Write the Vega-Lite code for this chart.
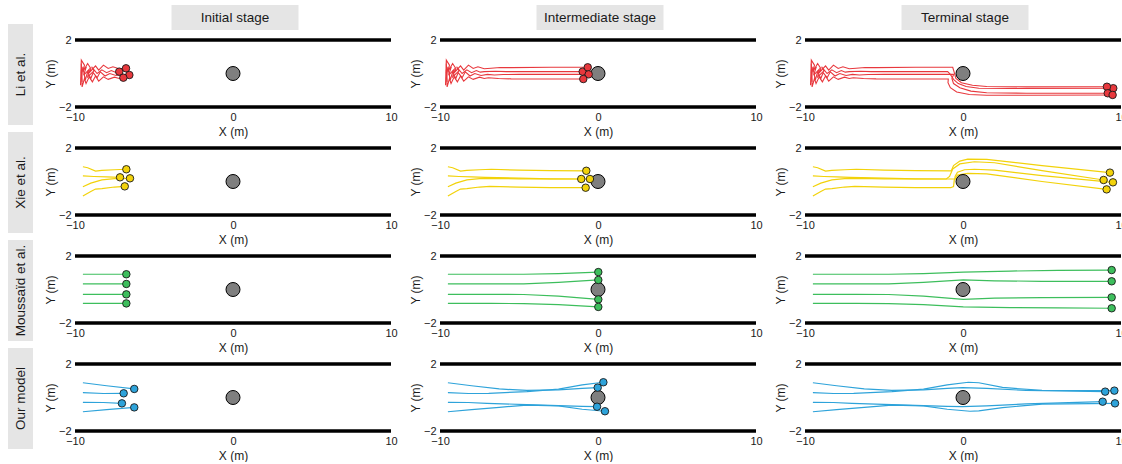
{
"$schema": "https://vega.github.io/schema/vega-lite/v6.json",
"padding": {"left": 8, "top": 5, "right": 0, "bottom": 0},
"background": "white",
"config": {
 "font": "Liberation Sans",
 "view": {"stroke": null},
 "axis": {"ticks": false, "domain": false, "grid": false, "labelFontSize": 11, "titleFontSize": 12, "titleFontWeight": "normal", "labelColor": "#1a1a1a", "titleColor": "#1a1a1a", "labelFlush": false},
 "axisX": {"labelPadding": 4.5, "titlePadding": 4},
 "axisY": {"labelPadding": 4, "titlePadding": 0.5}
},
"datasets": {
 "walls": [{"y": 2}, {"y": -2}],
 "obstacle": [{"x": 0, "y": 0}],
 "agents": [
  {"m":"Li","s":0,"a":1,"x":-7.2,"y":0.11},{"m":"Li","s":0,"a":2,"x":-6.77,"y":0.31},{"m":"Li","s":0,"a":3,"x":-6.56,"y":-0.09},{"m":"Li","s":0,"a":4,"x":-6.94,"y":-0.25},
  {"m":"Li","s":1,"a":1,"x":-0.97,"y":0.11},{"m":"Li","s":1,"a":2,"x":-0.65,"y":0.37},{"m":"Li","s":1,"a":3,"x":-0.59,"y":-0.05},{"m":"Li","s":1,"a":4,"x":-0.93,"y":-0.33},
  {"m":"Li","s":2,"a":1,"x":9.51,"y":-0.88},{"m":"Li","s":2,"a":2,"x":9.11,"y":-0.79},{"m":"Li","s":2,"a":3,"x":9.16,"y":-1.18},{"m":"Li","s":2,"a":4,"x":9.47,"y":-1.28},
  {"m":"Xie","s":0,"a":1,"x":-6.75,"y":0.73},{"m":"Xie","s":0,"a":2,"x":-7.15,"y":0.25},{"m":"Xie","s":0,"a":3,"x":-6.52,"y":0.19},{"m":"Xie","s":0,"a":4,"x":-6.85,"y":-0.29},
  {"m":"Xie","s":1,"a":1,"x":-0.74,"y":0.64},{"m":"Xie","s":1,"a":2,"x":-1.06,"y":0.15},{"m":"Xie","s":1,"a":3,"x":-0.51,"y":0.15},{"m":"Xie","s":1,"a":4,"x":-0.78,"y":-0.37},
  {"m":"Xie","s":2,"a":1,"x":9.3,"y":0.53},{"m":"Xie","s":2,"a":2,"x":8.9,"y":0.09},{"m":"Xie","s":2,"a":3,"x":9.49,"y":-0.05},{"m":"Xie","s":2,"a":4,"x":9.09,"y":-0.47},
  {"m":"Mou","s":0,"a":1,"x":-6.75,"y":0.91},{"m":"Mou","s":0,"a":2,"x":-6.75,"y":0.33},{"m":"Mou","s":0,"a":3,"x":-6.75,"y":-0.29},{"m":"Mou","s":0,"a":4,"x":-6.75,"y":-0.83},
  {"m":"Mou","s":1,"a":1,"x":0.02,"y":1.04},{"m":"Mou","s":1,"a":2,"x":0.02,"y":0.57},{"m":"Mou","s":1,"a":3,"x":0.02,"y":-0.59},{"m":"Mou","s":1,"a":4,"x":0.02,"y":-1.04},
  {"m":"Mou","s":2,"a":1,"x":9.41,"y":1.16},{"m":"Mou","s":2,"a":2,"x":9.41,"y":0.49},{"m":"Mou","s":2,"a":3,"x":9.41,"y":-0.47},{"m":"Mou","s":2,"a":4,"x":9.41,"y":-1.12},
  {"m":"Our","s":0,"a":1,"x":-6.25,"y":0.51},{"m":"Our","s":0,"a":2,"x":-6.92,"y":0.25},{"m":"Our","s":0,"a":3,"x":-7.03,"y":-0.35},{"m":"Our","s":0,"a":4,"x":-6.25,"y":-0.59},
  {"m":"Our","s":1,"a":1,"x":-0.02,"y":0.59},{"m":"Our","s":1,"a":2,"x":0.34,"y":0.91},{"m":"Our","s":1,"a":3,"x":-0.06,"y":-0.55},{"m":"Our","s":1,"a":4,"x":0.44,"y":-0.82},
  {"m":"Our","s":2,"a":1,"x":9.0,"y":0.35},{"m":"Our","s":2,"a":2,"x":9.58,"y":0.41},{"m":"Our","s":2,"a":3,"x":8.84,"y":-0.25},{"m":"Our","s":2,"a":4,"x":9.62,"y":-0.35}
 ],
 "traj": [
  {"m":"Li","a":1,"i":0,"t":0,"x":-9.6,"y":0.6},{"m":"Li","a":1,"i":1,"t":0,"x":-9.55,"y":-0.5},{"m":"Li","a":1,"i":2,"t":0,"x":-9.6,"y":0.2},{"m":"Li","a":1,"i":3,"t":0,"x":-9.3,"y":0.35},{"m":"Li","a":1,"i":4,"t":0,"x":-9.45,"y":-0.1},{"m":"Li","a":1,"i":5,"t":0,"x":-9.1,"y":0.25},{"m":"Li","a":1,"i":6,"t":0,"x":-9.2,"y":-0.2},{"m":"Li","a":1,"i":7,"t":0,"x":-8.8,"y":0.15},{"m":"Li","a":1,"i":8,"t":0,"x":-8.95,"y":0.4},{"m":"Li","a":1,"i":9,"t":0,"x":-8.6,"y":0.0},{"m":"Li","a":1,"i":10,"t":0,"x":-8.3,"y":0.22},{"m":"Li","a":1,"i":11,"t":0,"x":-8.0,"y":0.05},{"m":"Li","a":1,"i":12,"t":0,"x":-7.7,"y":0.18},{"m":"Li","a":1,"i":13,"t":0,"x":-7.45,"y":0.08},{"m":"Li","a":1,"i":14,"t":0,"x":-7.2,"y":0.11},
  {"m":"Li","a":1,"i":15,"t":1,"x":-6.5,"y":0.13},{"m":"Li","a":1,"i":16,"t":1,"x":-5.8,"y":0.11},{"m":"Li","a":1,"i":17,"t":1,"x":-4,"y":0.11},{"m":"Li","a":1,"i":18,"t":1,"x":-0.97,"y":0.11},
  {"m":"Li","a":1,"i":19,"t":2,"x":-0.8,"y":-0.05},{"m":"Li","a":1,"i":20,"t":2,"x":-0.6,"y":-0.35},{"m":"Li","a":1,"i":21,"t":2,"x":-0.3,"y":-0.6},{"m":"Li","a":1,"i":22,"t":2,"x":0.2,"y":-0.78},{"m":"Li","a":1,"i":23,"t":2,"x":1,"y":-0.88},{"m":"Li","a":1,"i":24,"t":2,"x":3,"y":-0.9},{"m":"Li","a":1,"i":25,"t":2,"x":9.51,"y":-0.88},

  {"m":"Li","a":2,"i":0,"t":0,"x":-9.65,"y":-0.7},{"m":"Li","a":2,"i":1,"t":0,"x":-9.6,"y":0.8},{"m":"Li","a":2,"i":2,"t":0,"x":-9.4,"y":0.5},{"m":"Li","a":2,"i":3,"t":0,"x":-9.5,"y":0.1},{"m":"Li","a":2,"i":4,"t":0,"x":-9.2,"y":0.6},{"m":"Li","a":2,"i":5,"t":0,"x":-9.0,"y":0.3},{"m":"Li","a":2,"i":6,"t":0,"x":-9.15,"y":0.0},{"m":"Li","a":2,"i":7,"t":0,"x":-8.7,"y":0.45},{"m":"Li","a":2,"i":8,"t":0,"x":-8.5,"y":0.2},{"m":"Li","a":2,"i":9,"t":0,"x":-8.2,"y":0.5},{"m":"Li","a":2,"i":10,"t":0,"x":-7.9,"y":0.3},{"m":"Li","a":2,"i":11,"t":0,"x":-7.6,"y":0.4},{"m":"Li","a":2,"i":12,"t":0,"x":-7.2,"y":0.28},{"m":"Li","a":2,"i":13,"t":0,"x":-6.77,"y":0.31},
  {"m":"Li","a":2,"i":14,"t":1,"x":-6.2,"y":0.36},{"m":"Li","a":2,"i":15,"t":1,"x":-5.5,"y":0.35},{"m":"Li","a":2,"i":16,"t":1,"x":-3,"y":0.37},{"m":"Li","a":2,"i":17,"t":1,"x":-0.65,"y":0.37},
  {"m":"Li","a":2,"i":18,"t":2,"x":-0.55,"y":0.05},{"m":"Li","a":2,"i":19,"t":2,"x":-0.45,"y":-0.3},{"m":"Li","a":2,"i":20,"t":2,"x":-0.1,"y":-0.55},{"m":"Li","a":2,"i":21,"t":2,"x":0.6,"y":-0.7},{"m":"Li","a":2,"i":22,"t":2,"x":1.5,"y":-0.78},{"m":"Li","a":2,"i":23,"t":2,"x":4,"y":-0.8},{"m":"Li","a":2,"i":24,"t":2,"x":9.11,"y":-0.79},

  {"m":"Li","a":3,"i":0,"t":0,"x":-9.6,"y":-0.3},{"m":"Li","a":3,"i":1,"t":0,"x":-9.5,"y":0.4},{"m":"Li","a":3,"i":2,"t":0,"x":-9.35,"y":-0.4},{"m":"Li","a":3,"i":3,"t":0,"x":-9.2,"y":0.1},{"m":"Li","a":3,"i":4,"t":0,"x":-9.0,"y":-0.3},{"m":"Li","a":3,"i":5,"t":0,"x":-8.85,"y":0.05},{"m":"Li","a":3,"i":6,"t":0,"x":-8.6,"y":-0.25},{"m":"Li","a":3,"i":7,"t":0,"x":-8.4,"y":0.1},{"m":"Li","a":3,"i":8,"t":0,"x":-8.1,"y":-0.15},{"m":"Li","a":3,"i":9,"t":0,"x":-7.8,"y":0.0},{"m":"Li","a":3,"i":10,"t":0,"x":-7.4,"y":-0.12},{"m":"Li","a":3,"i":11,"t":0,"x":-7.0,"y":-0.05},{"m":"Li","a":3,"i":12,"t":0,"x":-6.56,"y":-0.09},
  {"m":"Li","a":3,"i":13,"t":1,"x":-6,"y":-0.06},{"m":"Li","a":3,"i":14,"t":1,"x":-5,"y":-0.05},{"m":"Li","a":3,"i":15,"t":1,"x":-2,"y":-0.05},{"m":"Li","a":3,"i":16,"t":1,"x":-0.59,"y":-0.05},
  {"m":"Li","a":3,"i":17,"t":2,"x":-0.7,"y":-0.3},{"m":"Li","a":3,"i":18,"t":2,"x":-0.6,"y":-0.6},{"m":"Li","a":3,"i":19,"t":2,"x":-0.2,"y":-0.85},{"m":"Li","a":3,"i":20,"t":2,"x":0.5,"y":-1.05},{"m":"Li","a":3,"i":21,"t":2,"x":1.5,"y":-1.15},{"m":"Li","a":3,"i":22,"t":2,"x":4,"y":-1.18},{"m":"Li","a":3,"i":23,"t":2,"x":9.16,"y":-1.18},

  {"m":"Li","a":4,"i":0,"t":0,"x":-9.6,"y":0.1},{"m":"Li","a":4,"i":1,"t":0,"x":-9.55,"y":-0.8},{"m":"Li","a":4,"i":2,"t":0,"x":-9.4,"y":-0.3},{"m":"Li","a":4,"i":3,"t":0,"x":-9.3,"y":-0.6},{"m":"Li","a":4,"i":4,"t":0,"x":-9.1,"y":-0.2},{"m":"Li","a":4,"i":5,"t":0,"x":-8.9,"y":-0.5},{"m":"Li","a":4,"i":6,"t":0,"x":-8.7,"y":-0.15},{"m":"Li","a":4,"i":7,"t":0,"x":-8.5,"y":-0.45},{"m":"Li","a":4,"i":8,"t":0,"x":-8.2,"y":-0.2},{"m":"Li","a":4,"i":9,"t":0,"x":-7.9,"y":-0.35},{"m":"Li","a":4,"i":10,"t":0,"x":-7.5,"y":-0.22},{"m":"Li","a":4,"i":11,"t":0,"x":-7.2,"y":-0.3},{"m":"Li","a":4,"i":12,"t":0,"x":-6.94,"y":-0.25},
  {"m":"Li","a":4,"i":13,"t":1,"x":-6.3,"y":-0.3},{"m":"Li","a":4,"i":14,"t":1,"x":-5.5,"y":-0.32},{"m":"Li","a":4,"i":15,"t":1,"x":-3,"y":-0.33},{"m":"Li","a":4,"i":16,"t":1,"x":-0.93,"y":-0.33},
  {"m":"Li","a":4,"i":17,"t":2,"x":-0.95,"y":-0.55},{"m":"Li","a":4,"i":18,"t":2,"x":-0.8,"y":-0.85},{"m":"Li","a":4,"i":19,"t":2,"x":-0.4,"y":-1.1},{"m":"Li","a":4,"i":20,"t":2,"x":0.4,"y":-1.25},{"m":"Li","a":4,"i":21,"t":2,"x":1.5,"y":-1.3},{"m":"Li","a":4,"i":22,"t":2,"x":4,"y":-1.3},{"m":"Li","a":4,"i":23,"t":2,"x":9.47,"y":-1.28},

  {"m":"Xie","a":1,"i":0,"t":0,"x":-9.5,"y":0.88},{"m":"Xie","a":1,"i":1,"t":0,"x":-9.2,"y":0.82},{"m":"Xie","a":1,"i":2,"t":0,"x":-8.7,"y":0.62},{"m":"Xie","a":1,"i":3,"t":0,"x":-8.3,"y":0.66},{"m":"Xie","a":1,"i":4,"t":0,"x":-7.5,"y":0.7},{"m":"Xie","a":1,"i":5,"t":0,"x":-6.75,"y":0.73},
  {"m":"Xie","a":1,"i":6,"t":1,"x":-5,"y":0.68},{"m":"Xie","a":1,"i":7,"t":1,"x":-3,"y":0.65},{"m":"Xie","a":1,"i":8,"t":1,"x":-0.74,"y":0.64},
  {"m":"Xie","a":1,"i":9,"t":2,"x":-0.6,"y":0.95},{"m":"Xie","a":1,"i":10,"t":2,"x":-0.2,"y":1.22},{"m":"Xie","a":1,"i":11,"t":2,"x":0.3,"y":1.34},{"m":"Xie","a":1,"i":12,"t":2,"x":1.5,"y":1.32},{"m":"Xie","a":1,"i":13,"t":2,"x":5,"y":0.95},{"m":"Xie","a":1,"i":14,"t":2,"x":9.3,"y":0.53},

  {"m":"Xie","a":2,"i":0,"t":0,"x":-9.5,"y":0.33},{"m":"Xie","a":2,"i":1,"t":0,"x":-8.8,"y":0.3},{"m":"Xie","a":2,"i":2,"t":0,"x":-8,"y":0.28},{"m":"Xie","a":2,"i":3,"t":0,"x":-7.15,"y":0.25},
  {"m":"Xie","a":2,"i":4,"t":1,"x":-5,"y":0.2},{"m":"Xie","a":2,"i":5,"t":1,"x":-3,"y":0.16},{"m":"Xie","a":2,"i":6,"t":1,"x":-1.06,"y":0.15},
  {"m":"Xie","a":2,"i":7,"t":2,"x":-0.85,"y":0.3},{"m":"Xie","a":2,"i":8,"t":2,"x":-0.65,"y":0.75},{"m":"Xie","a":2,"i":9,"t":2,"x":-0.2,"y":1.05},{"m":"Xie","a":2,"i":10,"t":2,"x":0.72,"y":1.18},{"m":"Xie","a":2,"i":11,"t":2,"x":2,"y":1.12},{"m":"Xie","a":2,"i":12,"t":2,"x":5,"y":0.65},{"m":"Xie","a":2,"i":13,"t":2,"x":8.9,"y":0.09},

  {"m":"Xie","a":3,"i":0,"t":0,"x":-9.5,"y":-0.31},{"m":"Xie","a":3,"i":1,"t":0,"x":-9,"y":-0.1},{"m":"Xie","a":3,"i":2,"t":0,"x":-8.3,"y":0.1},{"m":"Xie","a":3,"i":3,"t":0,"x":-7.5,"y":0.17},{"m":"Xie","a":3,"i":4,"t":0,"x":-6.52,"y":0.19},
  {"m":"Xie","a":3,"i":5,"t":1,"x":-5,"y":0.16},{"m":"Xie","a":3,"i":6,"t":1,"x":-3,"y":0.15},{"m":"Xie","a":3,"i":7,"t":1,"x":-0.51,"y":0.15},
  {"m":"Xie","a":3,"i":8,"t":2,"x":-0.5,"y":0.3},{"m":"Xie","a":3,"i":9,"t":2,"x":-0.35,"y":0.55},{"m":"Xie","a":3,"i":10,"t":2,"x":0.1,"y":0.7},{"m":"Xie","a":3,"i":11,"t":2,"x":0.72,"y":0.73},{"m":"Xie","a":3,"i":12,"t":2,"x":2,"y":0.68},{"m":"Xie","a":3,"i":13,"t":2,"x":5,"y":0.35},{"m":"Xie","a":3,"i":14,"t":2,"x":9.49,"y":-0.05},

  {"m":"Xie","a":4,"i":0,"t":0,"x":-9.5,"y":-0.87},{"m":"Xie","a":4,"i":1,"t":0,"x":-9,"y":-0.6},{"m":"Xie","a":4,"i":2,"t":0,"x":-8.7,"y":-0.45},{"m":"Xie","a":4,"i":3,"t":0,"x":-8.3,"y":-0.42},{"m":"Xie","a":4,"i":4,"t":0,"x":-7.5,"y":-0.33},{"m":"Xie","a":4,"i":5,"t":0,"x":-6.85,"y":-0.29},
  {"m":"Xie","a":4,"i":6,"t":1,"x":-5,"y":-0.34},{"m":"Xie","a":4,"i":7,"t":1,"x":-3,"y":-0.36},{"m":"Xie","a":4,"i":8,"t":1,"x":-0.78,"y":-0.37},
  {"m":"Xie","a":4,"i":9,"t":2,"x":-0.6,"y":-0.3},{"m":"Xie","a":4,"i":10,"t":2,"x":-0.55,"y":0.1},{"m":"Xie","a":4,"i":11,"t":2,"x":-0.35,"y":0.38},{"m":"Xie","a":4,"i":12,"t":2,"x":0.3,"y":0.49},{"m":"Xie","a":4,"i":13,"t":2,"x":1.5,"y":0.45},{"m":"Xie","a":4,"i":14,"t":2,"x":5,"y":0.0},{"m":"Xie","a":4,"i":15,"t":2,"x":9.09,"y":-0.47},

  {"m":"Mou","a":1,"i":0,"t":0,"x":-9.5,"y":0.91},{"m":"Mou","a":1,"i":1,"t":0,"x":-6.75,"y":0.91},{"m":"Mou","a":1,"i":2,"t":1,"x":-4.7,"y":0.91},{"m":"Mou","a":1,"i":3,"t":1,"x":-2.5,"y":0.95},{"m":"Mou","a":1,"i":4,"t":1,"x":0.02,"y":1.04},{"m":"Mou","a":1,"i":5,"t":2,"x":3,"y":1.1},{"m":"Mou","a":1,"i":6,"t":2,"x":6,"y":1.14},{"m":"Mou","a":1,"i":7,"t":2,"x":9.41,"y":1.16},
  {"m":"Mou","a":2,"i":0,"t":0,"x":-9.5,"y":0.33},{"m":"Mou","a":2,"i":1,"t":0,"x":-6.75,"y":0.33},{"m":"Mou","a":2,"i":2,"t":1,"x":-4.7,"y":0.33},{"m":"Mou","a":2,"i":3,"t":1,"x":-2.5,"y":0.42},{"m":"Mou","a":2,"i":4,"t":1,"x":0.02,"y":0.57},{"m":"Mou","a":2,"i":5,"t":2,"x":2,"y":0.52},{"m":"Mou","a":2,"i":6,"t":2,"x":5,"y":0.49},{"m":"Mou","a":2,"i":7,"t":2,"x":9.41,"y":0.49},
  {"m":"Mou","a":3,"i":0,"t":0,"x":-9.5,"y":-0.29},{"m":"Mou","a":3,"i":1,"t":0,"x":-6.75,"y":-0.29},{"m":"Mou","a":3,"i":2,"t":1,"x":-4.7,"y":-0.3},{"m":"Mou","a":3,"i":3,"t":1,"x":-2.5,"y":-0.4},{"m":"Mou","a":3,"i":4,"t":1,"x":0.02,"y":-0.59},{"m":"Mou","a":3,"i":5,"t":2,"x":2,"y":-0.52},{"m":"Mou","a":3,"i":6,"t":2,"x":5,"y":-0.48},{"m":"Mou","a":3,"i":7,"t":2,"x":9.41,"y":-0.47},
  {"m":"Mou","a":4,"i":0,"t":0,"x":-9.5,"y":-0.83},{"m":"Mou","a":4,"i":1,"t":0,"x":-6.75,"y":-0.83},{"m":"Mou","a":4,"i":2,"t":1,"x":-4.7,"y":-0.84},{"m":"Mou","a":4,"i":3,"t":1,"x":-2.5,"y":-0.9},{"m":"Mou","a":4,"i":4,"t":1,"x":0.02,"y":-1.04},{"m":"Mou","a":4,"i":5,"t":2,"x":3,"y":-1.08},{"m":"Mou","a":4,"i":6,"t":2,"x":6,"y":-1.1},{"m":"Mou","a":4,"i":7,"t":2,"x":9.41,"y":-1.12},

  {"m":"Our","a":1,"i":0,"t":0,"x":-9.5,"y":0.88},{"m":"Our","a":1,"i":1,"t":0,"x":-8,"y":0.7},{"m":"Our","a":1,"i":2,"t":0,"x":-6.25,"y":0.51},{"m":"Our","a":1,"i":3,"t":1,"x":-4.5,"y":0.42},{"m":"Our","a":1,"i":4,"t":1,"x":-2.5,"y":0.45},{"m":"Our","a":1,"i":5,"t":1,"x":-1,"y":0.55},{"m":"Our","a":1,"i":6,"t":1,"x":-0.02,"y":0.59},{"m":"Our","a":1,"i":7,"t":2,"x":1.5,"y":0.55},{"m":"Our","a":1,"i":8,"t":2,"x":4,"y":0.42},{"m":"Our","a":1,"i":9,"t":2,"x":9.0,"y":0.35},
  {"m":"Our","a":2,"i":0,"t":0,"x":-9.5,"y":0.29},{"m":"Our","a":2,"i":1,"t":0,"x":-8.2,"y":0.24},{"m":"Our","a":2,"i":2,"t":0,"x":-6.92,"y":0.25},{"m":"Our","a":2,"i":3,"t":1,"x":-4.5,"y":0.35},{"m":"Our","a":2,"i":4,"t":1,"x":-2.5,"y":0.5},{"m":"Our","a":2,"i":5,"t":1,"x":-1,"y":0.75},{"m":"Our","a":2,"i":6,"t":1,"x":0.34,"y":0.91},{"m":"Our","a":2,"i":7,"t":2,"x":1,"y":0.88},{"m":"Our","a":2,"i":8,"t":2,"x":2.5,"y":0.6},{"m":"Our","a":2,"i":9,"t":2,"x":5,"y":0.42},{"m":"Our","a":2,"i":10,"t":2,"x":9.58,"y":0.41},
  {"m":"Our","a":3,"i":0,"t":0,"x":-9.5,"y":-0.29},{"m":"Our","a":3,"i":1,"t":0,"x":-8.2,"y":-0.3},{"m":"Our","a":3,"i":2,"t":0,"x":-7.03,"y":-0.35},{"m":"Our","a":3,"i":3,"t":1,"x":-4.5,"y":-0.42},{"m":"Our","a":3,"i":4,"t":1,"x":-2.5,"y":-0.48},{"m":"Our","a":3,"i":5,"t":1,"x":-1,"y":-0.53},{"m":"Our","a":3,"i":6,"t":1,"x":-0.06,"y":-0.55},{"m":"Our","a":3,"i":7,"t":2,"x":1.5,"y":-0.5},{"m":"Our","a":3,"i":8,"t":2,"x":4,"y":-0.38},{"m":"Our","a":3,"i":9,"t":2,"x":8.84,"y":-0.25},
  {"m":"Our","a":4,"i":0,"t":0,"x":-9.5,"y":-0.85},{"m":"Our","a":4,"i":1,"t":0,"x":-8,"y":-0.72},{"m":"Our","a":4,"i":2,"t":0,"x":-6.25,"y":-0.59},{"m":"Our","a":4,"i":3,"t":1,"x":-4.5,"y":-0.45},{"m":"Our","a":4,"i":4,"t":1,"x":-2.5,"y":-0.5},{"m":"Our","a":4,"i":5,"t":1,"x":-1,"y":-0.7},{"m":"Our","a":4,"i":6,"t":1,"x":0.44,"y":-0.82},{"m":"Our","a":4,"i":7,"t":2,"x":1,"y":-0.8},{"m":"Our","a":4,"i":8,"t":2,"x":2.5,"y":-0.6},{"m":"Our","a":4,"i":9,"t":2,"x":5,"y":-0.4},{"m":"Our","a":4,"i":10,"t":2,"x":9.62,"y":-0.35}
 ]
},
"bounds": "full",
"spacing": 11,
"hconcat": [
 {"bounds": "flush", "spacing": 7, "vconcat": [
  {"width": 25, "height": 12, "data": {"values": [{"label": "spacer"}]}, "mark": {"type": "bar", "color": "#ffffff", "opacity": 0}, "encoding": {"y": {"field": "label", "type": "nominal", "axis": null, "scale": {"paddingInner": 0, "paddingOuter": 0}}}},
  {"width": 25, "height": 101, "data": {"values": [{"label": "Li et al."}]}, "layer": [
   {"mark": {"type": "bar", "color": "#e5e5e5"}, "encoding": {"y": {"field": "label", "type": "nominal", "axis": null, "scale": {"paddingInner": 0, "paddingOuter": 0}}}},
   {"mark": {"type": "text", "angle": 270, "fontSize": 13.5, "color": "#1a1a1a"}, "encoding": {"text": {"field": "label"}}}]},
  {"width": 25, "height": 101, "data": {"values": [{"label": "Xie et al."}]}, "layer": [
   {"mark": {"type": "bar", "color": "#e5e5e5"}, "encoding": {"y": {"field": "label", "type": "nominal", "axis": null, "scale": {"paddingInner": 0, "paddingOuter": 0}}}},
   {"mark": {"type": "text", "angle": 270, "fontSize": 13.5, "color": "#1a1a1a"}, "encoding": {"text": {"field": "label"}}}]},
  {"width": 25, "height": 101, "data": {"values": [{"label": "Moussaïd et al."}]}, "layer": [
   {"mark": {"type": "bar", "color": "#e5e5e5"}, "encoding": {"y": {"field": "label", "type": "nominal", "axis": null, "scale": {"paddingInner": 0, "paddingOuter": 0}}}},
   {"mark": {"type": "text", "angle": 270, "fontSize": 13.5, "color": "#1a1a1a"}, "encoding": {"text": {"field": "label"}}}]},
  {"width": 25, "height": 101, "data": {"values": [{"label": "Our model"}]}, "layer": [
   {"mark": {"type": "bar", "color": "#e5e5e5"}, "encoding": {"y": {"field": "label", "type": "nominal", "axis": null, "scale": {"paddingInner": 0, "paddingOuter": 0}}}},
   {"mark": {"type": "text", "angle": 270, "fontSize": 13.5, "color": "#1a1a1a"}, "encoding": {"text": {"field": "label"}}}]}
 ]},
 {"bounds": "full", "spacing": 4, "vconcat": [
  {"bounds": "flush", "spacing": 49, "hconcat": [
   {"width": 316, "height": 25, "data": {"values": [{"label": "Initial stage"}]}, "layer": [
    {"mark": {"type": "bar", "color": "#e5e5e5", "width": 127, "xOffset": 2}, "encoding": {"x": {"field": "label", "type": "nominal", "axis": null}}},
    {"mark": {"type": "text", "fontSize": 13.5, "color": "#1a1a1a", "xOffset": 2}, "encoding": {"x": {"field": "label", "type": "nominal", "axis": null}, "text": {"field": "label"}}}]},
   {"width": 316, "height": 25, "data": {"values": [{"label": "Intermediate stage"}]}, "layer": [
    {"mark": {"type": "bar", "color": "#e5e5e5", "width": 127, "xOffset": 2}, "encoding": {"x": {"field": "label", "type": "nominal", "axis": null}}},
    {"mark": {"type": "text", "fontSize": 13.5, "color": "#1a1a1a", "xOffset": 2}, "encoding": {"x": {"field": "label", "type": "nominal", "axis": null}, "text": {"field": "label"}}}]},
   {"width": 316, "height": 25, "data": {"values": [{"label": "Terminal stage"}]}, "layer": [
    {"mark": {"type": "bar", "color": "#e5e5e5", "width": 127, "xOffset": 2}, "encoding": {"x": {"field": "label", "type": "nominal", "axis": null}}},
    {"mark": {"type": "text", "fontSize": 13.5, "color": "#1a1a1a", "xOffset": 2}, "encoding": {"x": {"field": "label", "type": "nominal", "axis": null}, "text": {"field": "label"}}}]}
  ]},
  {"bounds": "flush", "columns": 3, "spacing": {"row": 41, "column": 49}, "concat": [
   {"width":316,"height":67,"layer":[
    {"data":{"name":"walls"},"mark":{"type":"rule","color":"#000000","strokeWidth":3.5},"encoding":{"y":{"field":"y","type":"quantitative","title":"Y (m)","scale":{"domain":[-2,2],"nice":false,"zero":false},"axis":{"values":[-2,0,2]}}}},
    {"data":{"name":"traj"},"transform":[{"filter":"datum.m == 'Li' && datum.t <= 0"}],"mark":{"type":"line","color":"#E8383D","strokeWidth":1.1},"encoding":{"x":{"field":"x","type":"quantitative","title":"X (m)","scale":{"domain":[-10,10],"nice":false,"zero":false},"axis":{"values":[-10,0,10]}},"y":{"field":"y","type":"quantitative","title":"Y (m)"},"detail":{"field":"a","type":"nominal"},"order":{"field":"i","type":"quantitative"}}},
    {"data":{"name":"obstacle"},"mark":{"type":"circle","color":"#7f7f7f","opacity":1,"stroke":"#000000","strokeWidth":1,"size":196},"encoding":{"x":{"field":"x","type":"quantitative","title":"X (m)"},"y":{"field":"y","type":"quantitative","title":"Y (m)"}}},
    {"data":{"name":"agents"},"transform":[{"filter":"datum.m == 'Li' && datum.s == 0"}],"mark":{"type":"circle","color":"#E8383D","opacity":1,"stroke":"#1a1a1a","strokeWidth":0.9,"size":56},"encoding":{"x":{"field":"x","type":"quantitative","title":"X (m)"},"y":{"field":"y","type":"quantitative","title":"Y (m)"}}}]},
   {"width":316,"height":67,"layer":[
    {"data":{"name":"walls"},"mark":{"type":"rule","color":"#000000","strokeWidth":3.5},"encoding":{"y":{"field":"y","type":"quantitative","title":"Y (m)","scale":{"domain":[-2,2],"nice":false,"zero":false},"axis":{"values":[-2,0,2]}}}},
    {"data":{"name":"traj"},"transform":[{"filter":"datum.m == 'Li' && datum.t <= 1"}],"mark":{"type":"line","color":"#E8383D","strokeWidth":1.1},"encoding":{"x":{"field":"x","type":"quantitative","title":"X (m)","scale":{"domain":[-10,10],"nice":false,"zero":false},"axis":{"values":[-10,0,10]}},"y":{"field":"y","type":"quantitative","title":"Y (m)"},"detail":{"field":"a","type":"nominal"},"order":{"field":"i","type":"quantitative"}}},
    {"data":{"name":"obstacle"},"mark":{"type":"circle","color":"#7f7f7f","opacity":1,"stroke":"#000000","strokeWidth":1,"size":196},"encoding":{"x":{"field":"x","type":"quantitative","title":"X (m)"},"y":{"field":"y","type":"quantitative","title":"Y (m)"}}},
    {"data":{"name":"agents"},"transform":[{"filter":"datum.m == 'Li' && datum.s == 1"}],"mark":{"type":"circle","color":"#E8383D","opacity":1,"stroke":"#1a1a1a","strokeWidth":0.9,"size":56},"encoding":{"x":{"field":"x","type":"quantitative","title":"X (m)"},"y":{"field":"y","type":"quantitative","title":"Y (m)"}}}]},
   {"width":316,"height":67,"layer":[
    {"data":{"name":"walls"},"mark":{"type":"rule","color":"#000000","strokeWidth":3.5},"encoding":{"y":{"field":"y","type":"quantitative","title":"Y (m)","scale":{"domain":[-2,2],"nice":false,"zero":false},"axis":{"values":[-2,0,2]}}}},
    {"data":{"name":"traj"},"transform":[{"filter":"datum.m == 'Li' && datum.t <= 2"}],"mark":{"type":"line","color":"#E8383D","strokeWidth":1.1},"encoding":{"x":{"field":"x","type":"quantitative","title":"X (m)","scale":{"domain":[-10,10],"nice":false,"zero":false},"axis":{"values":[-10,0,10]}},"y":{"field":"y","type":"quantitative","title":"Y (m)"},"detail":{"field":"a","type":"nominal"},"order":{"field":"i","type":"quantitative"}}},
    {"data":{"name":"obstacle"},"mark":{"type":"circle","color":"#7f7f7f","opacity":1,"stroke":"#000000","strokeWidth":1,"size":196},"encoding":{"x":{"field":"x","type":"quantitative","title":"X (m)"},"y":{"field":"y","type":"quantitative","title":"Y (m)"}}},
    {"data":{"name":"agents"},"transform":[{"filter":"datum.m == 'Li' && datum.s == 2"}],"mark":{"type":"circle","color":"#E8383D","opacity":1,"stroke":"#1a1a1a","strokeWidth":0.9,"size":56},"encoding":{"x":{"field":"x","type":"quantitative","title":"X (m)"},"y":{"field":"y","type":"quantitative","title":"Y (m)"}}}]},

   {"width":316,"height":67,"layer":[
    {"data":{"name":"walls"},"mark":{"type":"rule","color":"#000000","strokeWidth":3.5},"encoding":{"y":{"field":"y","type":"quantitative","title":"Y (m)","scale":{"domain":[-2,2],"nice":false,"zero":false},"axis":{"values":[-2,0,2]}}}},
    {"data":{"name":"traj"},"transform":[{"filter":"datum.m == 'Xie' && datum.t <= 0"}],"mark":{"type":"line","color":"#F2D20A","strokeWidth":1.2},"encoding":{"x":{"field":"x","type":"quantitative","title":"X (m)","scale":{"domain":[-10,10],"nice":false,"zero":false},"axis":{"values":[-10,0,10]}},"y":{"field":"y","type":"quantitative","title":"Y (m)"},"detail":{"field":"a","type":"nominal"},"order":{"field":"i","type":"quantitative"}}},
    {"data":{"name":"obstacle"},"mark":{"type":"circle","color":"#7f7f7f","opacity":1,"stroke":"#000000","strokeWidth":1,"size":196},"encoding":{"x":{"field":"x","type":"quantitative","title":"X (m)"},"y":{"field":"y","type":"quantitative","title":"Y (m)"}}},
    {"data":{"name":"agents"},"transform":[{"filter":"datum.m == 'Xie' && datum.s == 0"}],"mark":{"type":"circle","color":"#F2D20A","opacity":1,"stroke":"#1a1a1a","strokeWidth":0.9,"size":56},"encoding":{"x":{"field":"x","type":"quantitative","title":"X (m)"},"y":{"field":"y","type":"quantitative","title":"Y (m)"}}}]},
   {"width":316,"height":67,"layer":[
    {"data":{"name":"walls"},"mark":{"type":"rule","color":"#000000","strokeWidth":3.5},"encoding":{"y":{"field":"y","type":"quantitative","title":"Y (m)","scale":{"domain":[-2,2],"nice":false,"zero":false},"axis":{"values":[-2,0,2]}}}},
    {"data":{"name":"traj"},"transform":[{"filter":"datum.m == 'Xie' && datum.t <= 1"}],"mark":{"type":"line","color":"#F2D20A","strokeWidth":1.2},"encoding":{"x":{"field":"x","type":"quantitative","title":"X (m)","scale":{"domain":[-10,10],"nice":false,"zero":false},"axis":{"values":[-10,0,10]}},"y":{"field":"y","type":"quantitative","title":"Y (m)"},"detail":{"field":"a","type":"nominal"},"order":{"field":"i","type":"quantitative"}}},
    {"data":{"name":"obstacle"},"mark":{"type":"circle","color":"#7f7f7f","opacity":1,"stroke":"#000000","strokeWidth":1,"size":196},"encoding":{"x":{"field":"x","type":"quantitative","title":"X (m)"},"y":{"field":"y","type":"quantitative","title":"Y (m)"}}},
    {"data":{"name":"agents"},"transform":[{"filter":"datum.m == 'Xie' && datum.s == 1"}],"mark":{"type":"circle","color":"#F2D20A","opacity":1,"stroke":"#1a1a1a","strokeWidth":0.9,"size":56},"encoding":{"x":{"field":"x","type":"quantitative","title":"X (m)"},"y":{"field":"y","type":"quantitative","title":"Y (m)"}}}]},
   {"width":316,"height":67,"layer":[
    {"data":{"name":"walls"},"mark":{"type":"rule","color":"#000000","strokeWidth":3.5},"encoding":{"y":{"field":"y","type":"quantitative","title":"Y (m)","scale":{"domain":[-2,2],"nice":false,"zero":false},"axis":{"values":[-2,0,2]}}}},
    {"data":{"name":"traj"},"transform":[{"filter":"datum.m == 'Xie' && datum.t <= 2"}],"mark":{"type":"line","color":"#F2D20A","strokeWidth":1.2},"encoding":{"x":{"field":"x","type":"quantitative","title":"X (m)","scale":{"domain":[-10,10],"nice":false,"zero":false},"axis":{"values":[-10,0,10]}},"y":{"field":"y","type":"quantitative","title":"Y (m)"},"detail":{"field":"a","type":"nominal"},"order":{"field":"i","type":"quantitative"}}},
    {"data":{"name":"obstacle"},"mark":{"type":"circle","color":"#7f7f7f","opacity":1,"stroke":"#000000","strokeWidth":1,"size":196},"encoding":{"x":{"field":"x","type":"quantitative","title":"X (m)"},"y":{"field":"y","type":"quantitative","title":"Y (m)"}}},
    {"data":{"name":"agents"},"transform":[{"filter":"datum.m == 'Xie' && datum.s == 2"}],"mark":{"type":"circle","color":"#F2D20A","opacity":1,"stroke":"#1a1a1a","strokeWidth":0.9,"size":56},"encoding":{"x":{"field":"x","type":"quantitative","title":"X (m)"},"y":{"field":"y","type":"quantitative","title":"Y (m)"}}}]},

   {"width":316,"height":67,"layer":[
    {"data":{"name":"walls"},"mark":{"type":"rule","color":"#000000","strokeWidth":3.5},"encoding":{"y":{"field":"y","type":"quantitative","title":"Y (m)","scale":{"domain":[-2,2],"nice":false,"zero":false},"axis":{"values":[-2,0,2]}}}},
    {"data":{"name":"traj"},"transform":[{"filter":"datum.m == 'Mou' && datum.t <= 0"}],"mark":{"type":"line","color":"#3DBE5C","strokeWidth":1.2},"encoding":{"x":{"field":"x","type":"quantitative","title":"X (m)","scale":{"domain":[-10,10],"nice":false,"zero":false},"axis":{"values":[-10,0,10]}},"y":{"field":"y","type":"quantitative","title":"Y (m)"},"detail":{"field":"a","type":"nominal"},"order":{"field":"i","type":"quantitative"}}},
    {"data":{"name":"obstacle"},"mark":{"type":"circle","color":"#7f7f7f","opacity":1,"stroke":"#000000","strokeWidth":1,"size":196},"encoding":{"x":{"field":"x","type":"quantitative","title":"X (m)"},"y":{"field":"y","type":"quantitative","title":"Y (m)"}}},
    {"data":{"name":"agents"},"transform":[{"filter":"datum.m == 'Mou' && datum.s == 0"}],"mark":{"type":"circle","color":"#3DBE5C","opacity":1,"stroke":"#1a1a1a","strokeWidth":0.9,"size":56},"encoding":{"x":{"field":"x","type":"quantitative","title":"X (m)"},"y":{"field":"y","type":"quantitative","title":"Y (m)"}}}]},
   {"width":316,"height":67,"layer":[
    {"data":{"name":"walls"},"mark":{"type":"rule","color":"#000000","strokeWidth":3.5},"encoding":{"y":{"field":"y","type":"quantitative","title":"Y (m)","scale":{"domain":[-2,2],"nice":false,"zero":false},"axis":{"values":[-2,0,2]}}}},
    {"data":{"name":"traj"},"transform":[{"filter":"datum.m == 'Mou' && datum.t <= 1"}],"mark":{"type":"line","color":"#3DBE5C","strokeWidth":1.2},"encoding":{"x":{"field":"x","type":"quantitative","title":"X (m)","scale":{"domain":[-10,10],"nice":false,"zero":false},"axis":{"values":[-10,0,10]}},"y":{"field":"y","type":"quantitative","title":"Y (m)"},"detail":{"field":"a","type":"nominal"},"order":{"field":"i","type":"quantitative"}}},
    {"data":{"name":"obstacle"},"mark":{"type":"circle","color":"#7f7f7f","opacity":1,"stroke":"#000000","strokeWidth":1,"size":196},"encoding":{"x":{"field":"x","type":"quantitative","title":"X (m)"},"y":{"field":"y","type":"quantitative","title":"Y (m)"}}},
    {"data":{"name":"agents"},"transform":[{"filter":"datum.m == 'Mou' && datum.s == 1"}],"mark":{"type":"circle","color":"#3DBE5C","opacity":1,"stroke":"#1a1a1a","strokeWidth":0.9,"size":56},"encoding":{"x":{"field":"x","type":"quantitative","title":"X (m)"},"y":{"field":"y","type":"quantitative","title":"Y (m)"}}}]},
   {"width":316,"height":67,"layer":[
    {"data":{"name":"walls"},"mark":{"type":"rule","color":"#000000","strokeWidth":3.5},"encoding":{"y":{"field":"y","type":"quantitative","title":"Y (m)","scale":{"domain":[-2,2],"nice":false,"zero":false},"axis":{"values":[-2,0,2]}}}},
    {"data":{"name":"traj"},"transform":[{"filter":"datum.m == 'Mou' && datum.t <= 2"}],"mark":{"type":"line","color":"#3DBE5C","strokeWidth":1.2},"encoding":{"x":{"field":"x","type":"quantitative","title":"X (m)","scale":{"domain":[-10,10],"nice":false,"zero":false},"axis":{"values":[-10,0,10]}},"y":{"field":"y","type":"quantitative","title":"Y (m)"},"detail":{"field":"a","type":"nominal"},"order":{"field":"i","type":"quantitative"}}},
    {"data":{"name":"obstacle"},"mark":{"type":"circle","color":"#7f7f7f","opacity":1,"stroke":"#000000","strokeWidth":1,"size":196},"encoding":{"x":{"field":"x","type":"quantitative","title":"X (m)"},"y":{"field":"y","type":"quantitative","title":"Y (m)"}}},
    {"data":{"name":"agents"},"transform":[{"filter":"datum.m == 'Mou' && datum.s == 2"}],"mark":{"type":"circle","color":"#3DBE5C","opacity":1,"stroke":"#1a1a1a","strokeWidth":0.9,"size":56},"encoding":{"x":{"field":"x","type":"quantitative","title":"X (m)"},"y":{"field":"y","type":"quantitative","title":"Y (m)"}}}]},

   {"width":316,"height":67,"layer":[
    {"data":{"name":"walls"},"mark":{"type":"rule","color":"#000000","strokeWidth":3.5},"encoding":{"y":{"field":"y","type":"quantitative","title":"Y (m)","scale":{"domain":[-2,2],"nice":false,"zero":false},"axis":{"values":[-2,0,2]}}}},
    {"data":{"name":"traj"},"transform":[{"filter":"datum.m == 'Our' && datum.t <= 0"}],"mark":{"type":"line","color":"#2EA3DA","strokeWidth":1.2},"encoding":{"x":{"field":"x","type":"quantitative","title":"X (m)","scale":{"domain":[-10,10],"nice":false,"zero":false},"axis":{"values":[-10,0,10]}},"y":{"field":"y","type":"quantitative","title":"Y (m)"},"detail":{"field":"a","type":"nominal"},"order":{"field":"i","type":"quantitative"}}},
    {"data":{"name":"obstacle"},"mark":{"type":"circle","color":"#7f7f7f","opacity":1,"stroke":"#000000","strokeWidth":1,"size":196},"encoding":{"x":{"field":"x","type":"quantitative","title":"X (m)"},"y":{"field":"y","type":"quantitative","title":"Y (m)"}}},
    {"data":{"name":"agents"},"transform":[{"filter":"datum.m == 'Our' && datum.s == 0"}],"mark":{"type":"circle","color":"#2EA3DA","opacity":1,"stroke":"#1a1a1a","strokeWidth":0.9,"size":56},"encoding":{"x":{"field":"x","type":"quantitative","title":"X (m)"},"y":{"field":"y","type":"quantitative","title":"Y (m)"}}}]},
   {"width":316,"height":67,"layer":[
    {"data":{"name":"walls"},"mark":{"type":"rule","color":"#000000","strokeWidth":3.5},"encoding":{"y":{"field":"y","type":"quantitative","title":"Y (m)","scale":{"domain":[-2,2],"nice":false,"zero":false},"axis":{"values":[-2,0,2]}}}},
    {"data":{"name":"traj"},"transform":[{"filter":"datum.m == 'Our' && datum.t <= 1"}],"mark":{"type":"line","color":"#2EA3DA","strokeWidth":1.2},"encoding":{"x":{"field":"x","type":"quantitative","title":"X (m)","scale":{"domain":[-10,10],"nice":false,"zero":false},"axis":{"values":[-10,0,10]}},"y":{"field":"y","type":"quantitative","title":"Y (m)"},"detail":{"field":"a","type":"nominal"},"order":{"field":"i","type":"quantitative"}}},
    {"data":{"name":"obstacle"},"mark":{"type":"circle","color":"#7f7f7f","opacity":1,"stroke":"#000000","strokeWidth":1,"size":196},"encoding":{"x":{"field":"x","type":"quantitative","title":"X (m)"},"y":{"field":"y","type":"quantitative","title":"Y (m)"}}},
    {"data":{"name":"agents"},"transform":[{"filter":"datum.m == 'Our' && datum.s == 1"}],"mark":{"type":"circle","color":"#2EA3DA","opacity":1,"stroke":"#1a1a1a","strokeWidth":0.9,"size":56},"encoding":{"x":{"field":"x","type":"quantitative","title":"X (m)"},"y":{"field":"y","type":"quantitative","title":"Y (m)"}}}]},
   {"width":316,"height":67,"layer":[
    {"data":{"name":"walls"},"mark":{"type":"rule","color":"#000000","strokeWidth":3.5},"encoding":{"y":{"field":"y","type":"quantitative","title":"Y (m)","scale":{"domain":[-2,2],"nice":false,"zero":false},"axis":{"values":[-2,0,2]}}}},
    {"data":{"name":"traj"},"transform":[{"filter":"datum.m == 'Our' && datum.t <= 2"}],"mark":{"type":"line","color":"#2EA3DA","strokeWidth":1.2},"encoding":{"x":{"field":"x","type":"quantitative","title":"X (m)","scale":{"domain":[-10,10],"nice":false,"zero":false},"axis":{"values":[-10,0,10]}},"y":{"field":"y","type":"quantitative","title":"Y (m)"},"detail":{"field":"a","type":"nominal"},"order":{"field":"i","type":"quantitative"}}},
    {"data":{"name":"obstacle"},"mark":{"type":"circle","color":"#7f7f7f","opacity":1,"stroke":"#000000","strokeWidth":1,"size":196},"encoding":{"x":{"field":"x","type":"quantitative","title":"X (m)"},"y":{"field":"y","type":"quantitative","title":"Y (m)"}}},
    {"data":{"name":"agents"},"transform":[{"filter":"datum.m == 'Our' && datum.s == 2"}],"mark":{"type":"circle","color":"#2EA3DA","opacity":1,"stroke":"#1a1a1a","strokeWidth":0.9,"size":56},"encoding":{"x":{"field":"x","type":"quantitative","title":"X (m)"},"y":{"field":"y","type":"quantitative","title":"Y (m)"}}}]}
  ]}
 ]}
]
}
